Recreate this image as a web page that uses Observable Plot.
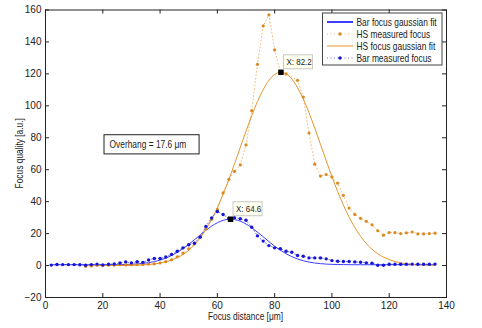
<!DOCTYPE html>
<html><head><meta charset="utf-8">
<script src="https://cdn.jsdelivr.net/npm/d3@7"></script>
<script src="https://cdn.jsdelivr.net/npm/@observablehq/plot@0.6"></script>
<style>
body{margin:0;background:#fff;}
#chart{position:relative;width:482px;height:328px;}
</style></head><body><div id="chart"></div>
<script>
// ---- data ----
const xTicks = [0, 20, 40, 60, 80, 100, 120, 140];
const yTicks = [-20, 0, 20, 40, 60, 80, 100, 120, 140, 160];

const hsX = [14,16,18,20,22,24,26,28,30,32,34,36,38,40,42,44,46,48,50,52,54,56,58,60,62,64,66,68,70,72,74,76,78,80,82,84,88,90,92,94,96,98,100,102,104,106,108,110,112,114,116,118,120,122,124,126,128,130,132,134,136];
const hsMeasured = [-0.5,-0.2,0.2,0,0.2,0.3,0.5,0.4,0.5,0.6,0.7,0.9,1.1,1.6,2.4,3.6,5.5,7.8,10.5,13.5,18,23,29,35,45.5,54,59,63,75.5,97,126,150,157,135,121,120,116,105.5,83,63.5,56,57,55.5,51.6,44,36,32,29.6,27.7,25.5,21.8,19,20.7,20.6,20,20.5,21,19.8,19.8,20,20.3];

const hsFitX = [14,16,18,20,22,24,26,28,30,32,34,36,38,40,42,44,46,48,50,52,54,56,58,60,62,64,66,68,70,72,74,76,78,80,82,84,86,88,90,92,94,96,98,100,102,104,106,108,110,112,114,116,118,120,122,124,126,128,130,132,134,136];
const hsFit = [0,0,0,0,0.01,0.02,0.04,0.09,0.15,0.26,0.41,0.65,1.0,1.56,2.33,3.4,4.9,6.9,9.6,13.0,17.3,22.6,28.9,36.3,44.6,53.8,63.7,73.9,84.1,93.9,102.7,110.1,115.9,119.6,121.0,120.0,116.8,111.4,104.3,95.7,86.1,75.9,65.7,55.7,46.4,37.9,30.3,23.8,18.3,13.8,10.2,7.4,5.3,3.7,2.5,1.7,1.1,0.7,0.45,0.28,0.17,0.1];

const barX = [2,4,6,8,10,12,14,16,18,20,22,24,26,28,30,32,34,36,38,40,42,44,46,48,50,52,54,56,58,60,62,64,66,68,70,72,74,76,78,80,82,84,86,88,90,92,94,96,98,100,102,104,106,108,110,112,114,116,118,120,122,124,126,128,130,132,134,136];
const barMeasured = [0.3,0.7,0.6,0.6,0.6,0.5,0.2,0.6,0.9,0.4,0.8,1.0,1.6,2.3,1.7,2.4,2.0,3.5,4.4,4.4,5.4,7.0,9.0,11.1,13.0,14.0,17.8,24.5,29.8,33.8,32.0,29.5,30.0,29.3,28.4,24.0,18.6,15.3,12.5,11.1,10.5,9.0,8.3,6.3,5.8,4.8,4.8,4.8,4.2,3.1,2.7,2.5,2.5,2.3,2.1,1.7,1.5,0.2,0.2,0.8,0.8,0.8,0.8,0.9,0.8,0.8,0.8,0.9];

const barFitX = barX;
const barFit = [0.5,0.5,0.5,0.5,0.5,0.5,0.5,0.5,0.5,0.52,0.53,0.56,0.6,0.68,0.81,1.02,1.34,1.8,2.47,3.41,4.64,6.25,8.22,10.57,13.25,16.16,19.15,22.07,24.68,26.8,28.3,29.0,28.8,27.8,26.0,23.7,20.9,18.0,15.0,12.1,9.6,7.4,5.56,4.1,3.0,2.18,1.6,1.19,0.92,0.75,0.65,0.6,0.55,0.52,0.5,0.5,0.5,0.5,0.5,0.5,0.5,0.5,0.5,0.5,0.5,0.5,0.5,0.5];

const tipX = [82.2, 64.6];
const tipY = [121, 29];
const tipLabels = ["X: 82.2", "X: 64.6"];

const legendLabels = ["Bar focus gaussian fit", "HS measured focus", "HS focus gaussian fit", "Bar measured focus"];
const overhangLabel = "Overhang = 17.6 μm";
const xLabel = "Focus distance [μm]";
const yLabel = "Focus quality [a.u.]";

// ---- styles ----
const FONT = '"Liberation Sans",Arial,sans-serif';
const ORANGE = "#e3952f";
const ORANGE_PT = "#d98a22";
const BLUE_LINE = "#3d3dff";
const BLUE_PT = "#1515d8";
const INK = "#222";
const SQ = 0.84; // horizontal squeeze of the reference's narrow lettering

const W = 482, H = 328, mL = 45, mR = 36, mT = 9.5, mB = 31;
const plotW = W - mL - mR, plotH = H - mT - mB;

const zip = (xs, ys) => xs.map((x, i) => ({x, y: ys[i]}));
const hs = zip(hsX, hsMeasured);
const hsF = zip(hsFitX, hsFit);
const bar = zip(barX, barMeasured);
const barF = zip(barFitX, barFit);
const tips = tipX.map((x, i) => ({x, y: tipY[i], label: tipLabels[i]}));

const plot = Plot.plot({
  width: W, height: H,
  marginLeft: mL, marginRight: mR, marginTop: mT, marginBottom: mB,
  x: {domain: [0, 140], label: null},
  y: {domain: [-20, 160], label: null},
  style: {fontFamily: FONT, fontSize: "10px", color: INK, background: "#fff"},
  marks: [
    Plot.line(barF, {x: "x", y: "y", stroke: BLUE_LINE, strokeWidth: 1, curve: "natural"}),
    Plot.line(hsF, {x: "x", y: "y", stroke: ORANGE, strokeWidth: 1, curve: "natural"}),
    Plot.line(hs, {x: "x", y: "y", stroke: ORANGE, strokeWidth: 1, strokeOpacity: 0.6, strokeDasharray: "1,2.5"}),
    Plot.dot(hs, {x: "x", y: "y", r: 1.6, fill: ORANGE_PT, stroke: "none"}),
    Plot.line(bar, {x: "x", y: "y", stroke: BLUE_PT, strokeWidth: 1, strokeOpacity: 0.6, strokeDasharray: "1,2.5"}),
    Plot.dot(bar, {x: "x", y: "y", r: 1.7, fill: BLUE_PT, stroke: "none"}),
    Plot.dot(tips, {x: "x", y: "y", symbol: "square", r: 3.1, fill: "black", stroke: "none"}),
    Plot.frame({stroke: INK}),
    Plot.tickX(xTicks, {x: d => d, insetTop: plotH - 4, stroke: INK}),
    Plot.tickX(xTicks, {x: d => d, insetBottom: plotH - 4, stroke: INK}),
    Plot.tickY(yTicks, {y: d => d, insetRight: plotW - 4, stroke: INK}),
    Plot.tickY(yTicks, {y: d => d, insetLeft: plotW - 4, stroke: INK}),
    Plot.axisX(xTicks, {tickSize: 0, tickPadding: 4, label: null, fill: INK}),
    Plot.axisY(yTicks, {tickSize: 0, tickPadding: 4, label: null, fill: INK})
  ]
});
document.getElementById("chart").appendChild(plot);

// ---- annotations placed through the plot's scales ----
const sx = plot.scale("x"), sy = plot.scale("y");
const svg = d3.select(plot);
const g = svg.append("g").attr("font-family", FONT).attr("text-anchor", "start");

// squeezed text helper
function label(parent, x, y, str, size, anchor, rotate) {
  const t = parent.append("g")
    .attr("transform", `translate(${x},${y})` + (rotate ? ` rotate(${rotate})` : "") + ` scale(${SQ},1)`);
  t.append("text").attr("font-size", size).attr("fill", INK)
    .attr("text-anchor", anchor || "start").attr("dominant-baseline", "auto").text(str);
}

// axis titles
label(g, mL + plotW / 2, H - 8.5, xLabel, 10, "middle");
label(g, 23, mT + plotH / 2, yLabel, 10, "middle", -90);

// data tips
tips.forEach(t => {
  const px = sx.apply(t.x), py = sy.apply(t.y);
  g.append("rect").attr("x", px + 3).attr("y", py - 17).attr("width", 29).attr("height", 14)
    .attr("fill", "#fffff2").attr("stroke", "#c8c8c0").attr("stroke-width", 1);
  label(g, px + 6, py - 6.5, t.label, 9.5, "start");
});

// overhang box
{
  const bx = sx.apply(20.6), by = sy.apply(81.6);
  const bw = sx.apply(53.8) - bx, bh = sy.apply(69.6) - by;
  g.append("rect").attr("x", bx).attr("y", by).attr("width", bw).attr("height", bh)
    .attr("fill", "#fff").attr("stroke", INK).attr("stroke-width", 1);
  label(g, bx + 5.5, by + 13.5, overhangLabel, 10, "start");
}

// legend (top-right inside the frame)
{
  const right = W - mR, top = mT;
  const lx = right - 123.5, ly = top + 3.5, lw = 119.5, lh = 52;
  g.append("rect").attr("x", lx).attr("y", ly).attr("width", lw).attr("height", lh)
    .attr("fill", "#fff").attr("stroke", "#444").attr("stroke-width", 1);
  const styles = [
    {stroke: BLUE_LINE, width: 2, dash: null, dot: null, op: 1},
    {stroke: ORANGE, width: 1, dash: "1,2.5", dot: ORANGE_PT, op: 0.6},
    {stroke: ORANGE, width: 1, dash: null, dot: null, op: 1},
    {stroke: BLUE_PT, width: 1, dash: "1,2.5", dot: BLUE_PT, op: 0.6}
  ];
  legendLabels.forEach((lab, i) => {
    const yy = ly + 9 + i * 12;
    const s = styles[i];
    const ln = g.append("line").attr("x1", lx + 4.5).attr("x2", lx + 30.5).attr("y1", yy).attr("y2", yy)
      .attr("stroke", s.stroke).attr("stroke-width", s.width).attr("stroke-opacity", s.op);
    if (s.dash) ln.attr("stroke-dasharray", s.dash);
    if (s.dot) g.append("circle").attr("cx", lx + 17.5).attr("cy", yy).attr("r", 1.7).attr("fill", s.dot);
    label(g, lx + 34, yy + 3.5, lab, 10, "start");
  });
}
</script></body></html>
